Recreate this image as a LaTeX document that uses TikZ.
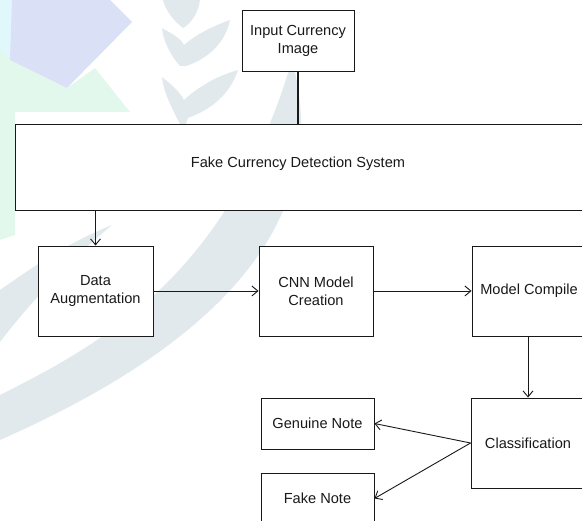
\documentclass[tikz,border=0pt]{standalone}
\usepackage{fontspec}
\setmainfont{Liberation Sans}
\usetikzlibrary{arrows.meta}
\definecolor{wmgrey}{RGB}{226,233,237}
\definecolor{wmblue}{RGB}{218,224,246}
\definecolor{wmcyan}{RGB}{224,248,252}
\definecolor{wmgreen}{RGB}{226,248,236}
\definecolor{ink}{RGB}{25,25,25}
\begin{document}
\begin{tikzpicture}[x=1pt,y=-1pt,
  box/.style={draw=ink, fill=white, line width=0.9pt, text=ink, align=center,
              inner sep=0pt, font=\fontsize{14.6}{18}\selectfont},
  conn/.style={draw=ink, line width=0.9pt},
  arr/.style={conn, -{Straight Barb[length=6pt,width=10pt]}},
  wm/.style={draw=none}]
\useasboundingbox (0,0) rectangle (582,521);
\clip (0,0) rectangle (582,521);
% faint background watermark
\fill[wm, wmcyan] (0,0) rectangle (20,70);
\fill[wm, wmgreen] (0,50) -- (10,60) -- (67,88) -- (95,68) -- (130,112) -- (15,112) -- (15,235) -- (0,240) -- cycle;
\fill[wm, wmblue] (12,0) -- (110,0) -- (132,22) -- (67,88) -- (10,60) -- cycle;
\fill[wm, wmgrey] (163,0) -- (200,0) .. controls (198,15) and (190,24) .. (183,28) .. controls (175,22) and (166,12) .. cycle;
\fill[wm, wmgrey] (162,28) .. controls (175,35) and (182,40) .. (184,45) .. controls (195,35) and (215,25) .. (230,20)
   .. controls (225,45) and (205,60) .. (186,66) -- (180,66) .. controls (170,55) and (163,40) .. cycle;
\fill[wm, wmgrey] (162,77) .. controls (172,85) and (180,92) .. (184,100) .. controls (200,85) and (220,75) .. (238,70)
   .. controls (230,95) and (210,110) .. (188,118) -- (186,124) -- (180,124) .. controls (170,105) and (163,90) .. cycle;
\fill[wm, wmgrey] (0,395) .. controls (110,340) and (230,270) .. (292,60)
   .. controls (330,200) and (250,330) .. (0,440) -- cycle;
\fill[wm, wmgrey] (0,290) .. controls (40,262) and (70,242) .. (112,225)
   .. controls (80,252) and (40,290) .. (0,342) -- cycle;
% boxes
\node[box, minimum width=112pt, minimum height=61pt] (inp) at (298,40.5) {Input Currency\\Image};
\node[box, minimum width=568pt, minimum height=86pt] (sys) at (299,167) {};
\node[text=ink, font=\fontsize{14.6}{18}\selectfont] (syslabel) at (298,164) {Fake Currency Detection System};
\node[box, minimum width=115pt, minimum height=90pt] (da) at (95.5,291) {Data\\Augmentation};
\node[box, minimum width=114pt, minimum height=90pt] (cnn) at (316,291) {CNN Model\\Creation};
\node[box, minimum width=114pt, minimum height=90pt] (mc) at (529,291) {Model Compile};
\node[box, minimum width=114pt, minimum height=90pt] (cls) at (528,443) {Classification};
\node[box, minimum width=113pt, minimum height=51pt] (gen) at (317.5,423.5) {Genuine Note};
\node[box, minimum width=113pt, minimum height=51pt] (fake) at (317.5,498.5) {Fake Note};
% connectors
\draw[conn, line width=1.3pt] (inp.south) -- (inp.south |- sys.north);
\draw[arr] (sys.south -| da.north) -- (da.north);
\draw[arr] (da.east) -- (cnn.west);
\draw[arr] (cnn.east) -- (mc.west);
\draw[arr] (mc.south -| cls.north) -- (cls.north);
\draw[arr] (cls.west) -- (gen.east);
\draw[arr] (cls.west) -- (fake.east);
\end{tikzpicture}
\end{document}
